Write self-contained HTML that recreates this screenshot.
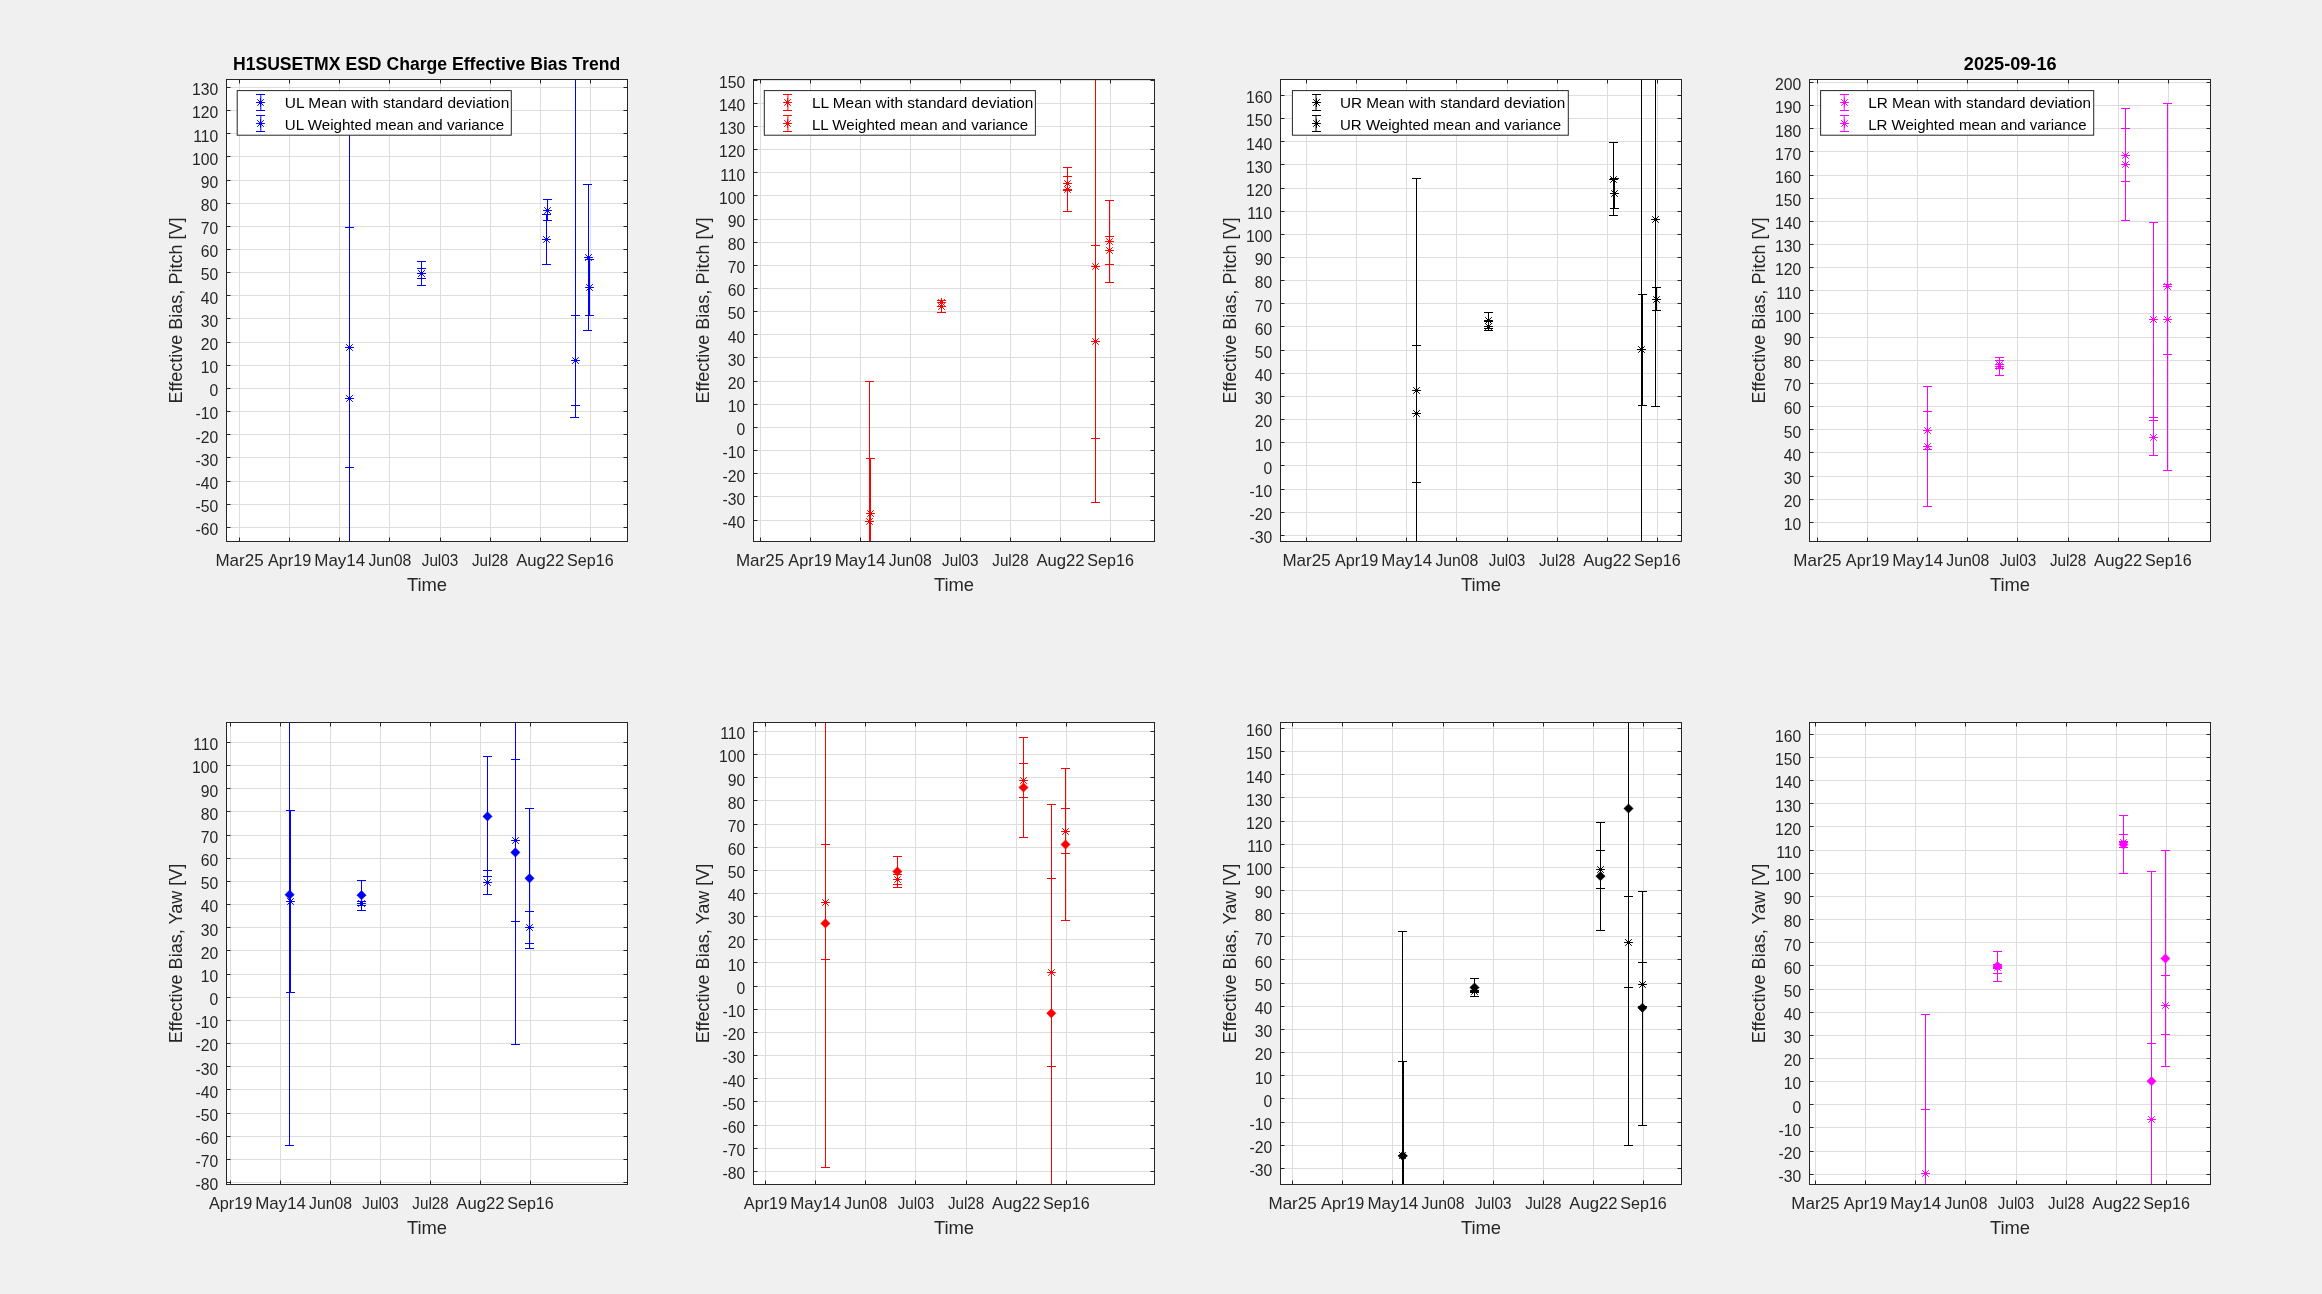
<!DOCTYPE html><html><head><meta charset="utf-8"><title>H1SUSETMX ESD Charge Effective Bias Trend</title><style>html,body{margin:0;padding:0;background:#f0f0f0;overflow:hidden;}svg{display:block;will-change:transform;}</style></head><body>
<svg xmlns="http://www.w3.org/2000/svg" width="2322" height="1294" viewBox="0 0 2322 1294" font-family='"Liberation Sans", sans-serif'>
<defs>
<clipPath id="cA1"><rect x="226.5" y="79.5" width="401" height="462"/></clipPath>
<clipPath id="cA2"><rect x="753.5" y="79.5" width="401" height="462"/></clipPath>
<clipPath id="cA3"><rect x="1280.5" y="79.5" width="401" height="462"/></clipPath>
<clipPath id="cA4"><rect x="1809.5" y="79.5" width="401" height="462"/></clipPath>
<clipPath id="cB1"><rect x="226.5" y="722.5" width="401" height="462"/></clipPath>
<clipPath id="cB2"><rect x="753.5" y="722.5" width="401" height="462"/></clipPath>
<clipPath id="cB3"><rect x="1280.5" y="722.5" width="401" height="462"/></clipPath>
<clipPath id="cB4"><rect x="1809.5" y="722.5" width="401" height="462"/></clipPath>
</defs>
<rect x="0" y="0" width="2322" height="1294" fill="#f0f0f0"/>
<rect x="226.0" y="79.0" width="402" height="463" fill="#fff"/>
<path d="M226.5 87.5H627.5M226.5 110.5H627.5M226.5 133.5H627.5M226.5 156.5H627.5M226.5 180.5H627.5M226.5 203.5H627.5M226.5 226.5H627.5M226.5 249.5H627.5M226.5 272.5H627.5M226.5 295.5H627.5M226.5 318.5H627.5M226.5 342.5H627.5M226.5 365.5H627.5M226.5 388.5H627.5M226.5 411.5H627.5M226.5 434.5H627.5M226.5 457.5H627.5M226.5 481.5H627.5M226.5 504.5H627.5M226.5 527.5H627.5M239.5 79.5V541.5M289.5 79.5V541.5M339.5 79.5V541.5M389.5 79.5V541.5M440.5 79.5V541.5M490.5 79.5V541.5M540.5 79.5V541.5M590.5 79.5V541.5" stroke="#dedede" stroke-width="1" fill="none"/>
<g clip-path="url(#cA1)">
<path d="M349.5 110V541.5M345 227.5H354M345 467.5H354M421.5 261.5V285.5M417 261.5H426M417 268.5H426M417 278.5H426M417 285.5H426M547.5 199.5V220.4M543 199.5H552M543 220.5H552M546.5 214.5V264.4M542 214.5H551M542 264.5H551M575.5 79.5V417.4M570 417.5H579M571 315.5H580M571 405.5H580M588.5 184.4V330.5M583 184.5H592M583 330.5H592M589.5 259.5V315.4M585 259.5H594M585 315.5H594" stroke="#0000ff" stroke-width="1" fill="none"/>
<path d="M345.1 347.5H353.9M349.5 343.1V351.9M346.2 344.2L352.8 350.8M346.2 350.8L352.8 344.2M345.1 398.5H353.9M349.5 394.1V402.9M346.2 395.2L352.8 401.8M346.2 401.8L352.8 395.2M417.1 273.5H425.9M421.5 269.1V277.9M418.2 270.2L424.8 276.8M418.2 276.8L424.8 270.2M417.1 273.5H425.9M421.5 269.1V277.9M418.2 270.2L424.8 276.8M418.2 276.8L424.8 270.2M543.1 210.5H551.9M547.5 206.1V214.9M544.2 207.2L550.8 213.8M544.2 213.8L550.8 207.2M542.1 239.5H550.9M546.5 235.1V243.9M543.2 236.2L549.8 242.8M543.2 242.8L549.8 236.2M571.1 360.5H579.9M575.5 356.1V364.9M572.2 357.2L578.8 363.8M572.2 363.8L578.8 357.2M584.1 257.5H592.9M588.5 253.1V261.9M585.2 254.2L591.8 260.8M585.2 260.8L591.8 254.2M585.1 287.5H593.9M589.5 283.1V291.9M586.2 284.2L592.8 290.8M586.2 290.8L592.8 284.2" stroke="#0000ff" stroke-width="1" fill="none"/>
</g>
<rect x="753.0" y="79.0" width="402" height="463" fill="#fff"/>
<path d="M753.5 80.5H1154.5M753.5 103.5H1154.5M753.5 126.5H1154.5M753.5 149.5H1154.5M753.5 172.5H1154.5M753.5 195.5H1154.5M753.5 219.5H1154.5M753.5 242.5H1154.5M753.5 265.5H1154.5M753.5 288.5H1154.5M753.5 311.5H1154.5M753.5 334.5H1154.5M753.5 357.5H1154.5M753.5 381.5H1154.5M753.5 404.5H1154.5M753.5 427.5H1154.5M753.5 450.5H1154.5M753.5 473.5H1154.5M753.5 496.5H1154.5M753.5 520.5H1154.5M760.5 79.5V541.5M810.5 79.5V541.5M860.5 79.5V541.5M910.5 79.5V541.5M960.5 79.5V541.5M1010.5 79.5V541.5M1060.5 79.5V541.5M1110.5 79.5V541.5" stroke="#dedede" stroke-width="1" fill="none"/>
<g clip-path="url(#cA2)">
<path d="M869.5 381.4V541.5M870.5 458.5V541.5M865 381.5H874M866 458.5H875M941.5 300.6V312.4M937 300.5H946M937 306.5H946M937 312.5H946M1067.5 167.5V211.5M1063 167.5H1072M1063 176.5H1072M1063 190.5H1072M1063 211.5H1072M1095.5 79.5V502.5M1091 245.5H1100M1091 438.5H1100M1091 502.5H1100M1109.5 200.4V282.4M1105 200.5H1114M1105 236.5H1114M1105 264.5H1114M1105 282.5H1114" stroke="#ff0000" stroke-width="1" fill="none"/>
<path d="M866.1 513.5H874.9M870.5 509.1V517.9M867.2 510.2L873.8 516.8M867.2 516.8L873.8 510.2M865.1 521.5H873.9M869.5 517.1V525.9M866.2 518.2L872.8 524.8M866.2 524.8L872.8 518.2M937.1 302.5H945.9M941.5 298.1V306.9M938.2 299.2L944.8 305.8M938.2 305.8L944.8 299.2M937.1 306.5H945.9M941.5 302.1V310.9M938.2 303.2L944.8 309.8M938.2 309.8L944.8 303.2M1063.1 183.5H1071.9M1067.5 179.1V187.9M1064.2 180.2L1070.8 186.8M1064.2 186.8L1070.8 180.2M1063.1 189.5H1071.9M1067.5 185.1V193.9M1064.2 186.2L1070.8 192.8M1064.2 192.8L1070.8 186.2M1091.1 266.5H1099.9M1095.5 262.1V270.9M1092.2 263.2L1098.8 269.8M1092.2 269.8L1098.8 263.2M1091.1 341.5H1099.9M1095.5 337.1V345.9M1092.2 338.2L1098.8 344.8M1092.2 344.8L1098.8 338.2M1105.1 241.5H1113.9M1109.5 237.1V245.9M1106.2 238.2L1112.8 244.8M1106.2 244.8L1112.8 238.2M1105.1 250.5H1113.9M1109.5 246.1V254.9M1106.2 247.2L1112.8 253.8M1106.2 253.8L1112.8 247.2" stroke="#ff0000" stroke-width="1" fill="none"/>
</g>
<rect x="1280.0" y="79.0" width="402" height="463" fill="#fff"/>
<path d="M1280.5 95.5H1681.5M1280.5 118.5H1681.5M1280.5 141.5H1681.5M1280.5 164.5H1681.5M1280.5 188.5H1681.5M1280.5 211.5H1681.5M1280.5 234.5H1681.5M1280.5 257.5H1681.5M1280.5 280.5H1681.5M1280.5 303.5H1681.5M1280.5 326.5H1681.5M1280.5 350.5H1681.5M1280.5 373.5H1681.5M1280.5 396.5H1681.5M1280.5 419.5H1681.5M1280.5 442.5H1681.5M1280.5 465.5H1681.5M1280.5 489.5H1681.5M1280.5 512.5H1681.5M1280.5 535.5H1681.5M1306.5 79.5V541.5M1356.5 79.5V541.5M1406.5 79.5V541.5M1456.5 79.5V541.5M1507.5 79.5V541.5M1557.5 79.5V541.5M1607.5 79.5V541.5M1657.5 79.5V541.5" stroke="#dedede" stroke-width="1" fill="none"/>
<g clip-path="url(#cA3)">
<path d="M1416.5 178.4V541.5M1412 178.5H1421M1412 345.5H1421M1412 482.5H1421M1488.5 312.5V330.5M1484 312.5H1493M1484 321.5H1493M1484 328.5H1493M1484 330.5H1493M1613.5 142.4V215.5M1609 142.5H1618M1609 215.5H1618M1614.5 178.6V208.4M1610 178.5H1619M1610 208.5H1619M1641.5 79.5V541.5M1642.5 294.5V405.3M1638 294.5H1647M1638 405.5H1647M1655.5 79.5V406.4M1651 406.5H1660M1656.5 287.4V310.5M1652 287.5H1661M1652 310.5H1661" stroke="#000000" stroke-width="1" fill="none"/>
<path d="M1412.1 390.5H1420.9M1416.5 386.1V394.9M1413.2 387.2L1419.8 393.8M1413.2 393.8L1419.8 387.2M1412.1 413.5H1420.9M1416.5 409.1V417.9M1413.2 410.2L1419.8 416.8M1413.2 416.8L1419.8 410.2M1484.1 320.5H1492.9M1488.5 316.1V324.9M1485.2 317.2L1491.8 323.8M1485.2 323.8L1491.8 317.2M1484.1 326.5H1492.9M1488.5 322.1V330.9M1485.2 323.2L1491.8 329.8M1485.2 329.8L1491.8 323.2M1609.1 179.5H1617.9M1613.5 175.1V183.9M1610.2 176.2L1616.8 182.8M1610.2 182.8L1616.8 176.2M1610.1 193.5H1618.9M1614.5 189.1V197.9M1611.2 190.2L1617.8 196.8M1611.2 196.8L1617.8 190.2M1637.1 349.5H1645.9M1641.5 345.1V353.9M1638.2 346.2L1644.8 352.8M1638.2 352.8L1644.8 346.2M1651.1 219.5H1659.9M1655.5 215.1V223.9M1652.2 216.2L1658.8 222.8M1652.2 222.8L1658.8 216.2M1652.1 299.5H1660.9M1656.5 295.1V303.9M1653.2 296.2L1659.8 302.8M1653.2 302.8L1659.8 296.2" stroke="#000000" stroke-width="1" fill="none"/>
</g>
<rect x="1809.0" y="79.0" width="402" height="463" fill="#fff"/>
<path d="M1809.5 82.5H2210.5M1809.5 105.5H2210.5M1809.5 128.5H2210.5M1809.5 151.5H2210.5M1809.5 175.5H2210.5M1809.5 198.5H2210.5M1809.5 221.5H2210.5M1809.5 244.5H2210.5M1809.5 267.5H2210.5M1809.5 290.5H2210.5M1809.5 313.5H2210.5M1809.5 337.5H2210.5M1809.5 360.5H2210.5M1809.5 383.5H2210.5M1809.5 406.5H2210.5M1809.5 429.5H2210.5M1809.5 452.5H2210.5M1809.5 476.5H2210.5M1809.5 499.5H2210.5M1809.5 522.5H2210.5M1817.5 79.5V541.5M1867.5 79.5V541.5M1917.5 79.5V541.5M1967.5 79.5V541.5M2017.5 79.5V541.5M2068.5 79.5V541.5M2118.5 79.5V541.5M2168.5 79.5V541.5" stroke="#dedede" stroke-width="1" fill="none"/>
<g clip-path="url(#cA4)">
<path d="M1927.5 386.4V506.5M1923 386.5H1932M1923 411.5H1932M1923 449.5H1932M1923 506.5H1932M1999.5 357.3V375.5M1995 357.5H2004M1995 360.5H2004M1995 368.5H2004M1995 375.5H2004M2125.5 108.5V220.5M2121 108.5H2130M2121 128.5H2130M2121 181.5H2130M2121 220.5H2130M2153.5 222.4V455.4M2149 222.5H2158M2149 417.5H2158M2149 420.5H2158M2149 455.5H2158M2167.5 103.4V470.5M2163 103.5H2172M2163 284.5H2172M2163 354.5H2172M2163 470.5H2172" stroke="#ff00ff" stroke-width="1" fill="none"/>
<path d="M1923.1 430.5H1931.9M1927.5 426.1V434.9M1924.2 427.2L1930.8 433.8M1924.2 433.8L1930.8 427.2M1923.1 446.5H1931.9M1927.5 442.1V450.9M1924.2 443.2L1930.8 449.8M1924.2 449.8L1930.8 443.2M1995.1 364.5H2003.9M1999.5 360.1V368.9M1996.2 361.2L2002.8 367.8M1996.2 367.8L2002.8 361.2M1995.1 366.5H2003.9M1999.5 362.1V370.9M1996.2 363.2L2002.8 369.8M1996.2 369.8L2002.8 363.2M2121.1 155.5H2129.9M2125.5 151.1V159.9M2122.2 152.2L2128.8 158.8M2122.2 158.8L2128.8 152.2M2121.1 164.5H2129.9M2125.5 160.1V168.9M2122.2 161.2L2128.8 167.8M2122.2 167.8L2128.8 161.2M2149.1 319.5H2157.9M2153.5 315.1V323.9M2150.2 316.2L2156.8 322.8M2150.2 322.8L2156.8 316.2M2149.1 437.5H2157.9M2153.5 433.1V441.9M2150.2 434.2L2156.8 440.8M2150.2 440.8L2156.8 434.2M2163.1 286.5H2171.9M2167.5 282.1V290.9M2164.2 283.2L2170.8 289.8M2164.2 289.8L2170.8 283.2M2163.1 319.5H2171.9M2167.5 315.1V323.9M2164.2 316.2L2170.8 322.8M2164.2 322.8L2170.8 316.2" stroke="#ff00ff" stroke-width="1" fill="none"/>
</g>
<rect x="226.0" y="722.0" width="402" height="463" fill="#fff"/>
<path d="M226.5 742.5H627.5M226.5 765.5H627.5M226.5 788.5H627.5M226.5 811.5H627.5M226.5 835.5H627.5M226.5 858.5H627.5M226.5 881.5H627.5M226.5 904.5H627.5M226.5 927.5H627.5M226.5 950.5H627.5M226.5 974.5H627.5M226.5 997.5H627.5M226.5 1020.5H627.5M226.5 1043.5H627.5M226.5 1066.5H627.5M226.5 1089.5H627.5M226.5 1113.5H627.5M226.5 1136.5H627.5M226.5 1159.5H627.5M226.5 1182.5H627.5M230.5 722.5V1184.5M280.5 722.5V1184.5M330.5 722.5V1184.5M380.5 722.5V1184.5M430.5 722.5V1184.5M480.5 722.5V1184.5M530.5 722.5V1184.5" stroke="#dedede" stroke-width="1" fill="none"/>
<g clip-path="url(#cB1)">
<path d="M289.5 722.5V1145.4M285 1145.5H294M290.5 810.5V992.5M286 810.5H295M286 992.5H295M361.5 880.4V910.5M357 880.5H366M357 901.5H366M357 905.5H366M357 910.5H366M487.5 756.5V894.5M483 756.5H492M483 870.5H492M483 876.5H492M483 894.5H492M515.5 722.5V1044.4M511 759.5H520M511 921.5H520M511 1044.5H520M529.5 808.5V948.4M525 808.5H534M525 911.5H534M525 943.5H534M525 948.5H534" stroke="#0000ff" stroke-width="1" fill="none"/>
<path d="M286.1 901.5H294.9M290.5 897.1V905.9M287.2 898.2L293.8 904.8M287.2 904.8L293.8 898.2M357.1 903.5H365.9M361.5 899.1V907.9M358.2 900.2L364.8 906.8M358.2 906.8L364.8 900.2M483.1 882.5H491.9M487.5 878.1V886.9M484.2 879.2L490.8 885.8M484.2 885.8L490.8 879.2M511.1 840.5H519.9M515.5 836.1V844.9M512.2 837.2L518.8 843.8M512.2 843.8L518.8 837.2M525.1 927.5H533.9M529.5 923.1V931.9M526.2 924.2L532.8 930.8M526.2 930.8L532.8 924.2" stroke="#0000ff" stroke-width="1" fill="none"/>
<path d="M289.6 890.1L294.2 894.7L289.6 899.3L285 894.7ZM361.5 890.6L366.1 895.2L361.5 899.8L356.9 895.2ZM487.5 811.8L492.1 816.4L487.5 821L482.9 816.4ZM515.4 847.8L520 852.4L515.4 857L510.8 852.4ZM529.5 873.7L534.1 878.3L529.5 882.9L524.9 878.3Z" stroke="#0000ff" stroke-width="0.6" fill="#0000ff"/>
</g>
<rect x="753.0" y="722.0" width="402" height="463" fill="#fff"/>
<path d="M753.5 731.5H1154.5M753.5 754.5H1154.5M753.5 777.5H1154.5M753.5 800.5H1154.5M753.5 824.5H1154.5M753.5 847.5H1154.5M753.5 870.5H1154.5M753.5 893.5H1154.5M753.5 916.5H1154.5M753.5 939.5H1154.5M753.5 962.5H1154.5M753.5 986.5H1154.5M753.5 1009.5H1154.5M753.5 1032.5H1154.5M753.5 1055.5H1154.5M753.5 1078.5H1154.5M753.5 1101.5H1154.5M753.5 1125.5H1154.5M753.5 1148.5H1154.5M753.5 1171.5H1154.5M765.5 722.5V1184.5M815.5 722.5V1184.5M865.5 722.5V1184.5M915.5 722.5V1184.5M966.5 722.5V1184.5M1016.5 722.5V1184.5M1066.5 722.5V1184.5" stroke="#dedede" stroke-width="1" fill="none"/>
<g clip-path="url(#cB2)">
<path d="M825.5 722.5V1167.2M821 844.5H830M821 959.5H830M821 1167.5H830M897.5 856.5V887.5M893 856.5H902M893 874.5H902M893 884.5H902M893 887.5H902M1023.5 737.4V837.5M1019 737.5H1028M1019 763.5H1028M1019 797.5H1028M1019 837.5H1028M1051.5 804.5V1184.5M1047 804.5H1056M1047 878.5H1056M1047 1066.5H1056M1065.5 768.4V920.5M1061 768.5H1070M1061 808.5H1070M1061 853.5H1070M1061 920.5H1070" stroke="#ff0000" stroke-width="1" fill="none"/>
<path d="M821.1 902.5H829.9M825.5 898.1V906.9M822.2 899.2L828.8 905.8M822.2 905.8L828.8 899.2M893.1 879.5H901.9M897.5 875.1V883.9M894.2 876.2L900.8 882.8M894.2 882.8L900.8 876.2M1019.1 780.5H1027.9M1023.5 776.1V784.9M1020.2 777.2L1026.8 783.8M1020.2 783.8L1026.8 777.2M1047.1 972.5H1055.9M1051.5 968.1V976.9M1048.2 969.2L1054.8 975.8M1048.2 975.8L1054.8 969.2M1061.1 831.5H1069.9M1065.5 827.1V835.9M1062.2 828.2L1068.8 834.8M1062.2 834.8L1068.8 828.2" stroke="#ff0000" stroke-width="1" fill="none"/>
<path d="M825.4 918.8L830 923.4L825.4 928L820.8 923.4ZM897.4 866.9L902 871.5L897.4 876.1L892.8 871.5ZM1023.5 782.9L1028.1 787.5L1023.5 792.1L1018.9 787.5ZM1051.3 1008.7L1055.9 1013.3L1051.3 1017.9L1046.7 1013.3ZM1065.5 839.9L1070.1 844.5L1065.5 849.1L1060.9 844.5Z" stroke="#ff0000" stroke-width="0.6" fill="#ff0000"/>
</g>
<rect x="1280.0" y="722.0" width="402" height="463" fill="#fff"/>
<path d="M1280.5 728.5H1681.5M1280.5 751.5H1681.5M1280.5 774.5H1681.5M1280.5 797.5H1681.5M1280.5 821.5H1681.5M1280.5 844.5H1681.5M1280.5 867.5H1681.5M1280.5 890.5H1681.5M1280.5 913.5H1681.5M1280.5 936.5H1681.5M1280.5 959.5H1681.5M1280.5 983.5H1681.5M1280.5 1006.5H1681.5M1280.5 1029.5H1681.5M1280.5 1052.5H1681.5M1280.5 1075.5H1681.5M1280.5 1098.5H1681.5M1280.5 1122.5H1681.5M1280.5 1145.5H1681.5M1280.5 1168.5H1681.5M1292.5 722.5V1184.5M1342.5 722.5V1184.5M1392.5 722.5V1184.5M1443.5 722.5V1184.5M1493.5 722.5V1184.5M1543.5 722.5V1184.5M1593.5 722.5V1184.5M1643.5 722.5V1184.5" stroke="#dedede" stroke-width="1" fill="none"/>
<g clip-path="url(#cB3)">
<path d="M1402.5 931.5V1184.5M1403.5 1061.4V1184.5M1398 931.5H1407M1398 1061.5H1407M1474.5 978.4V996.5M1470 978.5H1479M1470 990.5H1479M1470 992.5H1479M1470 996.5H1479M1600.5 822.5V930.5M1596 822.5H1605M1596 850.5H1605M1596 888.5H1605M1596 930.5H1605M1628.5 722.5V1145.5M1624 896.5H1633M1624 987.5H1633M1624 1145.5H1633M1642.5 891.4V1125.4M1638 891.5H1647M1638 962.5H1647M1638 1006.5H1647M1638 1125.5H1647" stroke="#000000" stroke-width="1" fill="none"/>
<path d="M1398.1 1155.5H1406.9M1402.5 1151.1V1159.9M1399.2 1152.2L1405.8 1158.8M1399.2 1158.8L1405.8 1152.2M1470.1 991.5H1478.9M1474.5 987.1V995.9M1471.2 988.2L1477.8 994.8M1471.2 994.8L1477.8 988.2M1596.1 869.5H1604.9M1600.5 865.1V873.9M1597.2 866.2L1603.8 872.8M1597.2 872.8L1603.8 866.2M1624.1 942.5H1632.9M1628.5 938.1V946.9M1625.2 939.2L1631.8 945.8M1625.2 945.8L1631.8 939.2M1638.1 984.5H1646.9M1642.5 980.1V988.9M1639.2 981.2L1645.8 987.8M1639.2 987.8L1645.8 981.2" stroke="#000000" stroke-width="1" fill="none"/>
<path d="M1402.8 1151.3L1407.4 1155.9L1402.8 1160.5L1398.2 1155.9ZM1474.5 982.9L1479.1 987.5L1474.5 992.1L1469.9 987.5ZM1600.5 871.6L1605.1 876.2L1600.5 880.8L1595.9 876.2ZM1628.5 803.9L1633.1 808.5L1628.5 813.1L1623.9 808.5ZM1642.4 1003.2L1647 1007.8L1642.4 1012.4L1637.8 1007.8Z" stroke="#000000" stroke-width="0.6" fill="#000000"/>
</g>
<rect x="1809.0" y="722.0" width="402" height="463" fill="#fff"/>
<path d="M1809.5 734.5H2210.5M1809.5 757.5H2210.5M1809.5 780.5H2210.5M1809.5 803.5H2210.5M1809.5 826.5H2210.5M1809.5 850.5H2210.5M1809.5 873.5H2210.5M1809.5 896.5H2210.5M1809.5 919.5H2210.5M1809.5 942.5H2210.5M1809.5 965.5H2210.5M1809.5 989.5H2210.5M1809.5 1012.5H2210.5M1809.5 1035.5H2210.5M1809.5 1058.5H2210.5M1809.5 1081.5H2210.5M1809.5 1104.5H2210.5M1809.5 1127.5H2210.5M1809.5 1151.5H2210.5M1809.5 1174.5H2210.5M1815.5 722.5V1184.5M1865.5 722.5V1184.5M1915.5 722.5V1184.5M1965.5 722.5V1184.5M2016.5 722.5V1184.5M2066.5 722.5V1184.5M2116.5 722.5V1184.5M2166.5 722.5V1184.5" stroke="#dedede" stroke-width="1" fill="none"/>
<g clip-path="url(#cB4)">
<path d="M1925.5 1014.4V1184.5M1921 1014.5H1930M1921 1109.5H1930M1997.5 951.4V981.5M1993 951.5H2002M1993 964.5H2002M1993 968.5H2002M1993 973.5H2002M1993 981.5H2002M2123.5 815.5V873.5M2119 815.5H2128M2119 834.5H2128M2119 841.5H2128M2119 847.5H2128M2119 873.5H2128M2151.5 871.4V1184.5M2147 871.5H2156M2147 1043.5H2156M2165.5 850.4V1066.4M2161 850.5H2170M2161 975.5H2170M2161 1034.5H2170M2161 1066.5H2170" stroke="#ff00ff" stroke-width="1" fill="none"/>
<path d="M1921.1 1173.5H1929.9M1925.5 1169.1V1177.9M1922.2 1170.2L1928.8 1176.8M1922.2 1176.8L1928.8 1170.2M1993.1 967.5H2001.9M1997.5 963.1V971.9M1994.2 964.2L2000.8 970.8M1994.2 970.8L2000.8 964.2M2119.1 842.5H2127.9M2123.5 838.1V846.9M2120.2 839.2L2126.8 845.8M2120.2 845.8L2126.8 839.2M2147.1 1119.5H2155.9M2151.5 1115.1V1123.9M2148.2 1116.2L2154.8 1122.8M2148.2 1122.8L2154.8 1116.2M2161.1 1005.5H2169.9M2165.5 1001.1V1009.9M2162.2 1002.2L2168.8 1008.8M2162.2 1008.8L2168.8 1002.2" stroke="#ff00ff" stroke-width="1" fill="none"/>
<path d="M1997.5 961.6L2002.1 966.2L1997.5 970.8L1992.9 966.2ZM2123.5 839.9L2128.1 844.5L2123.5 849.1L2118.9 844.5ZM2151.5 1076.6L2156.1 1081.2L2151.5 1085.8L2146.9 1081.2ZM2165.4 953.9L2170 958.5L2165.4 963.1L2160.8 958.5Z" stroke="#ff00ff" stroke-width="0.6" fill="#ff00ff"/>
</g>
<path d="M226.5 87.5h4M627.5 87.5h-4M226.5 110.5h4M627.5 110.5h-4M226.5 133.5h4M627.5 133.5h-4M226.5 156.5h4M627.5 156.5h-4M226.5 180.5h4M627.5 180.5h-4M226.5 203.5h4M627.5 203.5h-4M226.5 226.5h4M627.5 226.5h-4M226.5 249.5h4M627.5 249.5h-4M226.5 272.5h4M627.5 272.5h-4M226.5 295.5h4M627.5 295.5h-4M226.5 318.5h4M627.5 318.5h-4M226.5 342.5h4M627.5 342.5h-4M226.5 365.5h4M627.5 365.5h-4M226.5 388.5h4M627.5 388.5h-4M226.5 411.5h4M627.5 411.5h-4M226.5 434.5h4M627.5 434.5h-4M226.5 457.5h4M627.5 457.5h-4M226.5 481.5h4M627.5 481.5h-4M226.5 504.5h4M627.5 504.5h-4M226.5 527.5h4M627.5 527.5h-4M239.5 541.5v-4M239.5 79.5v4M289.5 541.5v-4M289.5 79.5v4M339.5 541.5v-4M339.5 79.5v4M389.5 541.5v-4M389.5 79.5v4M440.5 541.5v-4M440.5 79.5v4M490.5 541.5v-4M490.5 79.5v4M540.5 541.5v-4M540.5 79.5v4M590.5 541.5v-4M590.5 79.5v4" stroke="#262626" stroke-width="1" fill="none"/>
<rect x="226.5" y="79.5" width="401" height="462" fill="none" stroke="#262626" stroke-width="1"/>
<g font-size="15.7" fill="#262626"><text x="218.3" y="95.2" text-anchor="end">130</text><text x="218.3" y="118.36" text-anchor="end">120</text><text x="218.3" y="141.52" text-anchor="end">110</text><text x="218.3" y="164.67" text-anchor="end">100</text><text x="218.3" y="187.83" text-anchor="end">90</text><text x="218.3" y="210.99" text-anchor="end">80</text><text x="218.3" y="234.15" text-anchor="end">70</text><text x="218.3" y="257.31" text-anchor="end">60</text><text x="218.3" y="280.46" text-anchor="end">50</text><text x="218.3" y="303.62" text-anchor="end">40</text><text x="218.3" y="326.78" text-anchor="end">30</text><text x="218.3" y="349.94" text-anchor="end">20</text><text x="218.3" y="373.1" text-anchor="end">10</text><text x="218.3" y="396.25" text-anchor="end">0</text><text x="218.3" y="419.41" text-anchor="end">-10</text><text x="218.3" y="442.57" text-anchor="end">-20</text><text x="218.3" y="465.73" text-anchor="end">-30</text><text x="218.3" y="488.89" text-anchor="end">-40</text><text x="218.3" y="512.04" text-anchor="end">-50</text><text x="218.3" y="535.2" text-anchor="end">-60</text><text x="239.5" y="565.9" text-anchor="middle" textLength="48.21" lengthAdjust="spacingAndGlyphs">Mar25</text><text x="289.63" y="565.9" text-anchor="middle" textLength="43.4" lengthAdjust="spacingAndGlyphs">Apr19</text><text x="339.76" y="565.9" text-anchor="middle" textLength="50.78" lengthAdjust="spacingAndGlyphs">May14</text><text x="389.89" y="565.9" text-anchor="middle" textLength="43.03" lengthAdjust="spacingAndGlyphs">Jun08</text><text x="440.02" y="565.9" text-anchor="middle" textLength="36.51" lengthAdjust="spacingAndGlyphs">Jul03</text><text x="490.15" y="565.9" text-anchor="middle" textLength="36.3" lengthAdjust="spacingAndGlyphs">Jul28</text><text x="540.28" y="565.9" text-anchor="middle" textLength="48.27" lengthAdjust="spacingAndGlyphs">Aug22</text><text x="590.41" y="565.9" text-anchor="middle" textLength="46.54" lengthAdjust="spacingAndGlyphs">Sep16</text></g>
<text x="427" y="590.9" text-anchor="middle" font-size="18.4" fill="#262626">Time</text>
<text transform="translate(182 310.5) rotate(-90)" x="0" y="0" text-anchor="middle" font-size="18.7" fill="#262626" textLength="185.96" lengthAdjust="spacingAndGlyphs">Effective Bias, Pitch [V]</text>
<path d="M753.5 80.5h4M1154.5 80.5h-4M753.5 103.5h4M1154.5 103.5h-4M753.5 126.5h4M1154.5 126.5h-4M753.5 149.5h4M1154.5 149.5h-4M753.5 172.5h4M1154.5 172.5h-4M753.5 195.5h4M1154.5 195.5h-4M753.5 219.5h4M1154.5 219.5h-4M753.5 242.5h4M1154.5 242.5h-4M753.5 265.5h4M1154.5 265.5h-4M753.5 288.5h4M1154.5 288.5h-4M753.5 311.5h4M1154.5 311.5h-4M753.5 334.5h4M1154.5 334.5h-4M753.5 357.5h4M1154.5 357.5h-4M753.5 381.5h4M1154.5 381.5h-4M753.5 404.5h4M1154.5 404.5h-4M753.5 427.5h4M1154.5 427.5h-4M753.5 450.5h4M1154.5 450.5h-4M753.5 473.5h4M1154.5 473.5h-4M753.5 496.5h4M1154.5 496.5h-4M753.5 520.5h4M1154.5 520.5h-4M760.5 541.5v-4M760.5 79.5v4M810.5 541.5v-4M810.5 79.5v4M860.5 541.5v-4M860.5 79.5v4M910.5 541.5v-4M910.5 79.5v4M960.5 541.5v-4M960.5 79.5v4M1010.5 541.5v-4M1010.5 79.5v4M1060.5 541.5v-4M1060.5 79.5v4M1110.5 541.5v-4M1110.5 79.5v4" stroke="#262626" stroke-width="1" fill="none"/>
<rect x="753.5" y="79.5" width="401" height="462" fill="none" stroke="#262626" stroke-width="1"/>
<g font-size="15.7" fill="#262626"><text x="745.3" y="87.9" text-anchor="end">150</text><text x="745.3" y="111.06" text-anchor="end">140</text><text x="745.3" y="134.22" text-anchor="end">130</text><text x="745.3" y="157.37" text-anchor="end">120</text><text x="745.3" y="180.53" text-anchor="end">110</text><text x="745.3" y="203.69" text-anchor="end">100</text><text x="745.3" y="226.85" text-anchor="end">90</text><text x="745.3" y="250.01" text-anchor="end">80</text><text x="745.3" y="273.16" text-anchor="end">70</text><text x="745.3" y="296.32" text-anchor="end">60</text><text x="745.3" y="319.48" text-anchor="end">50</text><text x="745.3" y="342.64" text-anchor="end">40</text><text x="745.3" y="365.8" text-anchor="end">30</text><text x="745.3" y="388.95" text-anchor="end">20</text><text x="745.3" y="412.11" text-anchor="end">10</text><text x="745.3" y="435.27" text-anchor="end">0</text><text x="745.3" y="458.43" text-anchor="end">-10</text><text x="745.3" y="481.59" text-anchor="end">-20</text><text x="745.3" y="504.74" text-anchor="end">-30</text><text x="745.3" y="527.9" text-anchor="end">-40</text><text x="760" y="565.9" text-anchor="middle" textLength="48.21" lengthAdjust="spacingAndGlyphs">Mar25</text><text x="810.09" y="565.9" text-anchor="middle" textLength="43.4" lengthAdjust="spacingAndGlyphs">Apr19</text><text x="860.18" y="565.9" text-anchor="middle" textLength="50.78" lengthAdjust="spacingAndGlyphs">May14</text><text x="910.27" y="565.9" text-anchor="middle" textLength="43.03" lengthAdjust="spacingAndGlyphs">Jun08</text><text x="960.36" y="565.9" text-anchor="middle" textLength="36.51" lengthAdjust="spacingAndGlyphs">Jul03</text><text x="1010.45" y="565.9" text-anchor="middle" textLength="36.3" lengthAdjust="spacingAndGlyphs">Jul28</text><text x="1060.54" y="565.9" text-anchor="middle" textLength="48.27" lengthAdjust="spacingAndGlyphs">Aug22</text><text x="1110.63" y="565.9" text-anchor="middle" textLength="46.54" lengthAdjust="spacingAndGlyphs">Sep16</text></g>
<text x="954" y="590.9" text-anchor="middle" font-size="18.4" fill="#262626">Time</text>
<text transform="translate(709 310.5) rotate(-90)" x="0" y="0" text-anchor="middle" font-size="18.7" fill="#262626" textLength="185.96" lengthAdjust="spacingAndGlyphs">Effective Bias, Pitch [V]</text>
<path d="M1280.5 95.5h4M1681.5 95.5h-4M1280.5 118.5h4M1681.5 118.5h-4M1280.5 141.5h4M1681.5 141.5h-4M1280.5 164.5h4M1681.5 164.5h-4M1280.5 188.5h4M1681.5 188.5h-4M1280.5 211.5h4M1681.5 211.5h-4M1280.5 234.5h4M1681.5 234.5h-4M1280.5 257.5h4M1681.5 257.5h-4M1280.5 280.5h4M1681.5 280.5h-4M1280.5 303.5h4M1681.5 303.5h-4M1280.5 326.5h4M1681.5 326.5h-4M1280.5 350.5h4M1681.5 350.5h-4M1280.5 373.5h4M1681.5 373.5h-4M1280.5 396.5h4M1681.5 396.5h-4M1280.5 419.5h4M1681.5 419.5h-4M1280.5 442.5h4M1681.5 442.5h-4M1280.5 465.5h4M1681.5 465.5h-4M1280.5 489.5h4M1681.5 489.5h-4M1280.5 512.5h4M1681.5 512.5h-4M1280.5 535.5h4M1681.5 535.5h-4M1306.5 541.5v-4M1306.5 79.5v4M1356.5 541.5v-4M1356.5 79.5v4M1406.5 541.5v-4M1406.5 79.5v4M1456.5 541.5v-4M1456.5 79.5v4M1507.5 541.5v-4M1507.5 79.5v4M1557.5 541.5v-4M1557.5 79.5v4M1607.5 541.5v-4M1607.5 79.5v4M1657.5 541.5v-4M1657.5 79.5v4" stroke="#262626" stroke-width="1" fill="none"/>
<rect x="1280.5" y="79.5" width="401" height="462" fill="none" stroke="#262626" stroke-width="1"/>
<g font-size="15.7" fill="#262626"><text x="1272.3" y="103.2" text-anchor="end">160</text><text x="1272.3" y="126.36" text-anchor="end">150</text><text x="1272.3" y="149.52" text-anchor="end">140</text><text x="1272.3" y="172.67" text-anchor="end">130</text><text x="1272.3" y="195.83" text-anchor="end">120</text><text x="1272.3" y="218.99" text-anchor="end">110</text><text x="1272.3" y="242.15" text-anchor="end">100</text><text x="1272.3" y="265.31" text-anchor="end">90</text><text x="1272.3" y="288.46" text-anchor="end">80</text><text x="1272.3" y="311.62" text-anchor="end">70</text><text x="1272.3" y="334.78" text-anchor="end">60</text><text x="1272.3" y="357.94" text-anchor="end">50</text><text x="1272.3" y="381.1" text-anchor="end">40</text><text x="1272.3" y="404.25" text-anchor="end">30</text><text x="1272.3" y="427.41" text-anchor="end">20</text><text x="1272.3" y="450.57" text-anchor="end">10</text><text x="1272.3" y="473.73" text-anchor="end">0</text><text x="1272.3" y="496.89" text-anchor="end">-10</text><text x="1272.3" y="520.04" text-anchor="end">-20</text><text x="1272.3" y="543.2" text-anchor="end">-30</text><text x="1306.5" y="565.9" text-anchor="middle" textLength="48.21" lengthAdjust="spacingAndGlyphs">Mar25</text><text x="1356.63" y="565.9" text-anchor="middle" textLength="43.4" lengthAdjust="spacingAndGlyphs">Apr19</text><text x="1406.76" y="565.9" text-anchor="middle" textLength="50.78" lengthAdjust="spacingAndGlyphs">May14</text><text x="1456.89" y="565.9" text-anchor="middle" textLength="43.03" lengthAdjust="spacingAndGlyphs">Jun08</text><text x="1507.02" y="565.9" text-anchor="middle" textLength="36.51" lengthAdjust="spacingAndGlyphs">Jul03</text><text x="1557.15" y="565.9" text-anchor="middle" textLength="36.3" lengthAdjust="spacingAndGlyphs">Jul28</text><text x="1607.28" y="565.9" text-anchor="middle" textLength="48.27" lengthAdjust="spacingAndGlyphs">Aug22</text><text x="1657.41" y="565.9" text-anchor="middle" textLength="46.54" lengthAdjust="spacingAndGlyphs">Sep16</text></g>
<text x="1481" y="590.9" text-anchor="middle" font-size="18.4" fill="#262626">Time</text>
<text transform="translate(1236 310.5) rotate(-90)" x="0" y="0" text-anchor="middle" font-size="18.7" fill="#262626" textLength="185.96" lengthAdjust="spacingAndGlyphs">Effective Bias, Pitch [V]</text>
<path d="M1809.5 82.5h4M2210.5 82.5h-4M1809.5 105.5h4M2210.5 105.5h-4M1809.5 128.5h4M2210.5 128.5h-4M1809.5 151.5h4M2210.5 151.5h-4M1809.5 175.5h4M2210.5 175.5h-4M1809.5 198.5h4M2210.5 198.5h-4M1809.5 221.5h4M2210.5 221.5h-4M1809.5 244.5h4M2210.5 244.5h-4M1809.5 267.5h4M2210.5 267.5h-4M1809.5 290.5h4M2210.5 290.5h-4M1809.5 313.5h4M2210.5 313.5h-4M1809.5 337.5h4M2210.5 337.5h-4M1809.5 360.5h4M2210.5 360.5h-4M1809.5 383.5h4M2210.5 383.5h-4M1809.5 406.5h4M2210.5 406.5h-4M1809.5 429.5h4M2210.5 429.5h-4M1809.5 452.5h4M2210.5 452.5h-4M1809.5 476.5h4M2210.5 476.5h-4M1809.5 499.5h4M2210.5 499.5h-4M1809.5 522.5h4M2210.5 522.5h-4M1817.5 541.5v-4M1817.5 79.5v4M1867.5 541.5v-4M1867.5 79.5v4M1917.5 541.5v-4M1917.5 79.5v4M1967.5 541.5v-4M1967.5 79.5v4M2017.5 541.5v-4M2017.5 79.5v4M2068.5 541.5v-4M2068.5 79.5v4M2118.5 541.5v-4M2118.5 79.5v4M2168.5 541.5v-4M2168.5 79.5v4" stroke="#262626" stroke-width="1" fill="none"/>
<rect x="1809.5" y="79.5" width="401" height="462" fill="none" stroke="#262626" stroke-width="1"/>
<g font-size="15.7" fill="#262626"><text x="1801.3" y="90.2" text-anchor="end">200</text><text x="1801.3" y="113.36" text-anchor="end">190</text><text x="1801.3" y="136.52" text-anchor="end">180</text><text x="1801.3" y="159.67" text-anchor="end">170</text><text x="1801.3" y="182.83" text-anchor="end">160</text><text x="1801.3" y="205.99" text-anchor="end">150</text><text x="1801.3" y="229.15" text-anchor="end">140</text><text x="1801.3" y="252.31" text-anchor="end">130</text><text x="1801.3" y="275.46" text-anchor="end">120</text><text x="1801.3" y="298.62" text-anchor="end">110</text><text x="1801.3" y="321.78" text-anchor="end">100</text><text x="1801.3" y="344.94" text-anchor="end">90</text><text x="1801.3" y="368.1" text-anchor="end">80</text><text x="1801.3" y="391.25" text-anchor="end">70</text><text x="1801.3" y="414.41" text-anchor="end">60</text><text x="1801.3" y="437.57" text-anchor="end">50</text><text x="1801.3" y="460.73" text-anchor="end">40</text><text x="1801.3" y="483.89" text-anchor="end">30</text><text x="1801.3" y="507.04" text-anchor="end">20</text><text x="1801.3" y="530.2" text-anchor="end">10</text><text x="1817.4" y="565.9" text-anchor="middle" textLength="48.21" lengthAdjust="spacingAndGlyphs">Mar25</text><text x="1867.54" y="565.9" text-anchor="middle" textLength="43.4" lengthAdjust="spacingAndGlyphs">Apr19</text><text x="1917.68" y="565.9" text-anchor="middle" textLength="50.78" lengthAdjust="spacingAndGlyphs">May14</text><text x="1967.82" y="565.9" text-anchor="middle" textLength="43.03" lengthAdjust="spacingAndGlyphs">Jun08</text><text x="2017.96" y="565.9" text-anchor="middle" textLength="36.51" lengthAdjust="spacingAndGlyphs">Jul03</text><text x="2068.1" y="565.9" text-anchor="middle" textLength="36.3" lengthAdjust="spacingAndGlyphs">Jul28</text><text x="2118.24" y="565.9" text-anchor="middle" textLength="48.27" lengthAdjust="spacingAndGlyphs">Aug22</text><text x="2168.38" y="565.9" text-anchor="middle" textLength="46.54" lengthAdjust="spacingAndGlyphs">Sep16</text></g>
<text x="2010" y="590.9" text-anchor="middle" font-size="18.4" fill="#262626">Time</text>
<text transform="translate(1765 310.5) rotate(-90)" x="0" y="0" text-anchor="middle" font-size="18.7" fill="#262626" textLength="185.96" lengthAdjust="spacingAndGlyphs">Effective Bias, Pitch [V]</text>
<path d="M226.5 742.5h4M627.5 742.5h-4M226.5 765.5h4M627.5 765.5h-4M226.5 788.5h4M627.5 788.5h-4M226.5 811.5h4M627.5 811.5h-4M226.5 835.5h4M627.5 835.5h-4M226.5 858.5h4M627.5 858.5h-4M226.5 881.5h4M627.5 881.5h-4M226.5 904.5h4M627.5 904.5h-4M226.5 927.5h4M627.5 927.5h-4M226.5 950.5h4M627.5 950.5h-4M226.5 974.5h4M627.5 974.5h-4M226.5 997.5h4M627.5 997.5h-4M226.5 1020.5h4M627.5 1020.5h-4M226.5 1043.5h4M627.5 1043.5h-4M226.5 1066.5h4M627.5 1066.5h-4M226.5 1089.5h4M627.5 1089.5h-4M226.5 1113.5h4M627.5 1113.5h-4M226.5 1136.5h4M627.5 1136.5h-4M226.5 1159.5h4M627.5 1159.5h-4M226.5 1182.5h4M627.5 1182.5h-4M230.5 1184.5v-4M230.5 722.5v4M280.5 1184.5v-4M280.5 722.5v4M330.5 1184.5v-4M330.5 722.5v4M380.5 1184.5v-4M380.5 722.5v4M430.5 1184.5v-4M430.5 722.5v4M480.5 1184.5v-4M480.5 722.5v4M530.5 1184.5v-4M530.5 722.5v4" stroke="#262626" stroke-width="1" fill="none"/>
<rect x="226.5" y="722.5" width="401" height="462" fill="none" stroke="#262626" stroke-width="1"/>
<g font-size="15.7" fill="#262626"><text x="218.3" y="750.3" text-anchor="end">110</text><text x="218.3" y="773.46" text-anchor="end">100</text><text x="218.3" y="796.62" text-anchor="end">90</text><text x="218.3" y="819.77" text-anchor="end">80</text><text x="218.3" y="842.93" text-anchor="end">70</text><text x="218.3" y="866.09" text-anchor="end">60</text><text x="218.3" y="889.25" text-anchor="end">50</text><text x="218.3" y="912.41" text-anchor="end">40</text><text x="218.3" y="935.56" text-anchor="end">30</text><text x="218.3" y="958.72" text-anchor="end">20</text><text x="218.3" y="981.88" text-anchor="end">10</text><text x="218.3" y="1005.04" text-anchor="end">0</text><text x="218.3" y="1028.2" text-anchor="end">-10</text><text x="218.3" y="1051.35" text-anchor="end">-20</text><text x="218.3" y="1074.51" text-anchor="end">-30</text><text x="218.3" y="1097.67" text-anchor="end">-40</text><text x="218.3" y="1120.83" text-anchor="end">-50</text><text x="218.3" y="1143.99" text-anchor="end">-60</text><text x="218.3" y="1167.14" text-anchor="end">-70</text><text x="218.3" y="1190.3" text-anchor="end">-80</text><text x="230.6" y="1208.9" text-anchor="middle" textLength="43.4" lengthAdjust="spacingAndGlyphs">Apr19</text><text x="280.58" y="1208.9" text-anchor="middle" textLength="50.78" lengthAdjust="spacingAndGlyphs">May14</text><text x="330.56" y="1208.9" text-anchor="middle" textLength="43.03" lengthAdjust="spacingAndGlyphs">Jun08</text><text x="380.54" y="1208.9" text-anchor="middle" textLength="36.51" lengthAdjust="spacingAndGlyphs">Jul03</text><text x="430.52" y="1208.9" text-anchor="middle" textLength="36.3" lengthAdjust="spacingAndGlyphs">Jul28</text><text x="480.5" y="1208.9" text-anchor="middle" textLength="48.27" lengthAdjust="spacingAndGlyphs">Aug22</text><text x="530.48" y="1208.9" text-anchor="middle" textLength="46.54" lengthAdjust="spacingAndGlyphs">Sep16</text></g>
<text x="427" y="1233.9" text-anchor="middle" font-size="18.4" fill="#262626">Time</text>
<text transform="translate(182 953.5) rotate(-90)" x="0" y="0" text-anchor="middle" font-size="18.7" fill="#262626" textLength="179.64" lengthAdjust="spacingAndGlyphs">Effective Bias, Yaw [V]</text>
<path d="M753.5 731.5h4M1154.5 731.5h-4M753.5 754.5h4M1154.5 754.5h-4M753.5 777.5h4M1154.5 777.5h-4M753.5 800.5h4M1154.5 800.5h-4M753.5 824.5h4M1154.5 824.5h-4M753.5 847.5h4M1154.5 847.5h-4M753.5 870.5h4M1154.5 870.5h-4M753.5 893.5h4M1154.5 893.5h-4M753.5 916.5h4M1154.5 916.5h-4M753.5 939.5h4M1154.5 939.5h-4M753.5 962.5h4M1154.5 962.5h-4M753.5 986.5h4M1154.5 986.5h-4M753.5 1009.5h4M1154.5 1009.5h-4M753.5 1032.5h4M1154.5 1032.5h-4M753.5 1055.5h4M1154.5 1055.5h-4M753.5 1078.5h4M1154.5 1078.5h-4M753.5 1101.5h4M1154.5 1101.5h-4M753.5 1125.5h4M1154.5 1125.5h-4M753.5 1148.5h4M1154.5 1148.5h-4M753.5 1171.5h4M1154.5 1171.5h-4M765.5 1184.5v-4M765.5 722.5v4M815.5 1184.5v-4M815.5 722.5v4M865.5 1184.5v-4M865.5 722.5v4M915.5 1184.5v-4M915.5 722.5v4M966.5 1184.5v-4M966.5 722.5v4M1016.5 1184.5v-4M1016.5 722.5v4M1066.5 1184.5v-4M1066.5 722.5v4" stroke="#262626" stroke-width="1" fill="none"/>
<rect x="753.5" y="722.5" width="401" height="462" fill="none" stroke="#262626" stroke-width="1"/>
<g font-size="15.7" fill="#262626"><text x="745.3" y="739.2" text-anchor="end">110</text><text x="745.3" y="762.36" text-anchor="end">100</text><text x="745.3" y="785.52" text-anchor="end">90</text><text x="745.3" y="808.67" text-anchor="end">80</text><text x="745.3" y="831.83" text-anchor="end">70</text><text x="745.3" y="854.99" text-anchor="end">60</text><text x="745.3" y="878.15" text-anchor="end">50</text><text x="745.3" y="901.31" text-anchor="end">40</text><text x="745.3" y="924.46" text-anchor="end">30</text><text x="745.3" y="947.62" text-anchor="end">20</text><text x="745.3" y="970.78" text-anchor="end">10</text><text x="745.3" y="993.94" text-anchor="end">0</text><text x="745.3" y="1017.1" text-anchor="end">-10</text><text x="745.3" y="1040.25" text-anchor="end">-20</text><text x="745.3" y="1063.41" text-anchor="end">-30</text><text x="745.3" y="1086.57" text-anchor="end">-40</text><text x="745.3" y="1109.73" text-anchor="end">-50</text><text x="745.3" y="1132.89" text-anchor="end">-60</text><text x="745.3" y="1156.04" text-anchor="end">-70</text><text x="745.3" y="1179.2" text-anchor="end">-80</text><text x="765.5" y="1208.9" text-anchor="middle" textLength="43.4" lengthAdjust="spacingAndGlyphs">Apr19</text><text x="815.65" y="1208.9" text-anchor="middle" textLength="50.78" lengthAdjust="spacingAndGlyphs">May14</text><text x="865.8" y="1208.9" text-anchor="middle" textLength="43.03" lengthAdjust="spacingAndGlyphs">Jun08</text><text x="915.95" y="1208.9" text-anchor="middle" textLength="36.51" lengthAdjust="spacingAndGlyphs">Jul03</text><text x="966.1" y="1208.9" text-anchor="middle" textLength="36.3" lengthAdjust="spacingAndGlyphs">Jul28</text><text x="1016.25" y="1208.9" text-anchor="middle" textLength="48.27" lengthAdjust="spacingAndGlyphs">Aug22</text><text x="1066.4" y="1208.9" text-anchor="middle" textLength="46.54" lengthAdjust="spacingAndGlyphs">Sep16</text></g>
<text x="954" y="1233.9" text-anchor="middle" font-size="18.4" fill="#262626">Time</text>
<text transform="translate(709 953.5) rotate(-90)" x="0" y="0" text-anchor="middle" font-size="18.7" fill="#262626" textLength="179.64" lengthAdjust="spacingAndGlyphs">Effective Bias, Yaw [V]</text>
<path d="M1280.5 728.5h4M1681.5 728.5h-4M1280.5 751.5h4M1681.5 751.5h-4M1280.5 774.5h4M1681.5 774.5h-4M1280.5 797.5h4M1681.5 797.5h-4M1280.5 821.5h4M1681.5 821.5h-4M1280.5 844.5h4M1681.5 844.5h-4M1280.5 867.5h4M1681.5 867.5h-4M1280.5 890.5h4M1681.5 890.5h-4M1280.5 913.5h4M1681.5 913.5h-4M1280.5 936.5h4M1681.5 936.5h-4M1280.5 959.5h4M1681.5 959.5h-4M1280.5 983.5h4M1681.5 983.5h-4M1280.5 1006.5h4M1681.5 1006.5h-4M1280.5 1029.5h4M1681.5 1029.5h-4M1280.5 1052.5h4M1681.5 1052.5h-4M1280.5 1075.5h4M1681.5 1075.5h-4M1280.5 1098.5h4M1681.5 1098.5h-4M1280.5 1122.5h4M1681.5 1122.5h-4M1280.5 1145.5h4M1681.5 1145.5h-4M1280.5 1168.5h4M1681.5 1168.5h-4M1292.5 1184.5v-4M1292.5 722.5v4M1342.5 1184.5v-4M1342.5 722.5v4M1392.5 1184.5v-4M1392.5 722.5v4M1443.5 1184.5v-4M1443.5 722.5v4M1493.5 1184.5v-4M1493.5 722.5v4M1543.5 1184.5v-4M1543.5 722.5v4M1593.5 1184.5v-4M1593.5 722.5v4M1643.5 1184.5v-4M1643.5 722.5v4" stroke="#262626" stroke-width="1" fill="none"/>
<rect x="1280.5" y="722.5" width="401" height="462" fill="none" stroke="#262626" stroke-width="1"/>
<g font-size="15.7" fill="#262626"><text x="1272.3" y="736.2" text-anchor="end">160</text><text x="1272.3" y="759.36" text-anchor="end">150</text><text x="1272.3" y="782.52" text-anchor="end">140</text><text x="1272.3" y="805.67" text-anchor="end">130</text><text x="1272.3" y="828.83" text-anchor="end">120</text><text x="1272.3" y="851.99" text-anchor="end">110</text><text x="1272.3" y="875.15" text-anchor="end">100</text><text x="1272.3" y="898.31" text-anchor="end">90</text><text x="1272.3" y="921.46" text-anchor="end">80</text><text x="1272.3" y="944.62" text-anchor="end">70</text><text x="1272.3" y="967.78" text-anchor="end">60</text><text x="1272.3" y="990.94" text-anchor="end">50</text><text x="1272.3" y="1014.1" text-anchor="end">40</text><text x="1272.3" y="1037.25" text-anchor="end">30</text><text x="1272.3" y="1060.41" text-anchor="end">20</text><text x="1272.3" y="1083.57" text-anchor="end">10</text><text x="1272.3" y="1106.73" text-anchor="end">0</text><text x="1272.3" y="1129.89" text-anchor="end">-10</text><text x="1272.3" y="1153.04" text-anchor="end">-20</text><text x="1272.3" y="1176.2" text-anchor="end">-30</text><text x="1292.6" y="1208.9" text-anchor="middle" textLength="48.21" lengthAdjust="spacingAndGlyphs">Mar25</text><text x="1342.74" y="1208.9" text-anchor="middle" textLength="43.4" lengthAdjust="spacingAndGlyphs">Apr19</text><text x="1392.88" y="1208.9" text-anchor="middle" textLength="50.78" lengthAdjust="spacingAndGlyphs">May14</text><text x="1443.02" y="1208.9" text-anchor="middle" textLength="43.03" lengthAdjust="spacingAndGlyphs">Jun08</text><text x="1493.16" y="1208.9" text-anchor="middle" textLength="36.51" lengthAdjust="spacingAndGlyphs">Jul03</text><text x="1543.3" y="1208.9" text-anchor="middle" textLength="36.3" lengthAdjust="spacingAndGlyphs">Jul28</text><text x="1593.44" y="1208.9" text-anchor="middle" textLength="48.27" lengthAdjust="spacingAndGlyphs">Aug22</text><text x="1643.58" y="1208.9" text-anchor="middle" textLength="46.54" lengthAdjust="spacingAndGlyphs">Sep16</text></g>
<text x="1481" y="1233.9" text-anchor="middle" font-size="18.4" fill="#262626">Time</text>
<text transform="translate(1236 953.5) rotate(-90)" x="0" y="0" text-anchor="middle" font-size="18.7" fill="#262626" textLength="179.64" lengthAdjust="spacingAndGlyphs">Effective Bias, Yaw [V]</text>
<path d="M1809.5 734.5h4M2210.5 734.5h-4M1809.5 757.5h4M2210.5 757.5h-4M1809.5 780.5h4M2210.5 780.5h-4M1809.5 803.5h4M2210.5 803.5h-4M1809.5 826.5h4M2210.5 826.5h-4M1809.5 850.5h4M2210.5 850.5h-4M1809.5 873.5h4M2210.5 873.5h-4M1809.5 896.5h4M2210.5 896.5h-4M1809.5 919.5h4M2210.5 919.5h-4M1809.5 942.5h4M2210.5 942.5h-4M1809.5 965.5h4M2210.5 965.5h-4M1809.5 989.5h4M2210.5 989.5h-4M1809.5 1012.5h4M2210.5 1012.5h-4M1809.5 1035.5h4M2210.5 1035.5h-4M1809.5 1058.5h4M2210.5 1058.5h-4M1809.5 1081.5h4M2210.5 1081.5h-4M1809.5 1104.5h4M2210.5 1104.5h-4M1809.5 1127.5h4M2210.5 1127.5h-4M1809.5 1151.5h4M2210.5 1151.5h-4M1809.5 1174.5h4M2210.5 1174.5h-4M1815.5 1184.5v-4M1815.5 722.5v4M1865.5 1184.5v-4M1865.5 722.5v4M1915.5 1184.5v-4M1915.5 722.5v4M1965.5 1184.5v-4M1965.5 722.5v4M2016.5 1184.5v-4M2016.5 722.5v4M2066.5 1184.5v-4M2066.5 722.5v4M2116.5 1184.5v-4M2116.5 722.5v4M2166.5 1184.5v-4M2166.5 722.5v4" stroke="#262626" stroke-width="1" fill="none"/>
<rect x="1809.5" y="722.5" width="401" height="462" fill="none" stroke="#262626" stroke-width="1"/>
<g font-size="15.7" fill="#262626"><text x="1801.3" y="742.1" text-anchor="end">160</text><text x="1801.3" y="765.26" text-anchor="end">150</text><text x="1801.3" y="788.42" text-anchor="end">140</text><text x="1801.3" y="811.57" text-anchor="end">130</text><text x="1801.3" y="834.73" text-anchor="end">120</text><text x="1801.3" y="857.89" text-anchor="end">110</text><text x="1801.3" y="881.05" text-anchor="end">100</text><text x="1801.3" y="904.21" text-anchor="end">90</text><text x="1801.3" y="927.36" text-anchor="end">80</text><text x="1801.3" y="950.52" text-anchor="end">70</text><text x="1801.3" y="973.68" text-anchor="end">60</text><text x="1801.3" y="996.84" text-anchor="end">50</text><text x="1801.3" y="1020" text-anchor="end">40</text><text x="1801.3" y="1043.15" text-anchor="end">30</text><text x="1801.3" y="1066.31" text-anchor="end">20</text><text x="1801.3" y="1089.47" text-anchor="end">10</text><text x="1801.3" y="1112.63" text-anchor="end">0</text><text x="1801.3" y="1135.79" text-anchor="end">-10</text><text x="1801.3" y="1158.94" text-anchor="end">-20</text><text x="1801.3" y="1182.1" text-anchor="end">-30</text><text x="1815.4" y="1208.9" text-anchor="middle" textLength="48.21" lengthAdjust="spacingAndGlyphs">Mar25</text><text x="1865.57" y="1208.9" text-anchor="middle" textLength="43.4" lengthAdjust="spacingAndGlyphs">Apr19</text><text x="1915.74" y="1208.9" text-anchor="middle" textLength="50.78" lengthAdjust="spacingAndGlyphs">May14</text><text x="1965.91" y="1208.9" text-anchor="middle" textLength="43.03" lengthAdjust="spacingAndGlyphs">Jun08</text><text x="2016.08" y="1208.9" text-anchor="middle" textLength="36.51" lengthAdjust="spacingAndGlyphs">Jul03</text><text x="2066.25" y="1208.9" text-anchor="middle" textLength="36.3" lengthAdjust="spacingAndGlyphs">Jul28</text><text x="2116.42" y="1208.9" text-anchor="middle" textLength="48.27" lengthAdjust="spacingAndGlyphs">Aug22</text><text x="2166.59" y="1208.9" text-anchor="middle" textLength="46.54" lengthAdjust="spacingAndGlyphs">Sep16</text></g>
<text x="2010" y="1233.9" text-anchor="middle" font-size="18.4" fill="#262626">Time</text>
<text transform="translate(1765 953.5) rotate(-90)" x="0" y="0" text-anchor="middle" font-size="18.7" fill="#262626" textLength="179.64" lengthAdjust="spacingAndGlyphs">Effective Bias, Yaw [V]</text>
<text x="426.6" y="70.1" text-anchor="middle" font-size="19.2" font-weight="bold" fill="#000" textLength="387.33" lengthAdjust="spacingAndGlyphs">H1SUSETMX ESD Charge Effective Bias Trend</text>
<text x="2010.2" y="70.1" text-anchor="middle" font-size="19.2" font-weight="bold" fill="#000" textLength="92.68" lengthAdjust="spacingAndGlyphs">2025-09-16</text>
<rect x="237.2" y="90.6" width="274.1" height="44.6" fill="#fff" stroke="#262626" stroke-width="1"/>
<path d="M260.8 94.4V110.4M256 94.5H265M256 110.5H265M256.1 102.5H264.9M260.5 98.1V106.9M257.2 99.2L263.8 105.8M257.2 105.8L263.8 99.2M260.8 115.5V131.5M256 115.5H265M256 131.5H265M256.1 123.5H264.9M260.5 119.1V127.9M257.2 120.2L263.8 126.8M257.2 126.8L263.8 120.2" stroke="#0000ff" stroke-width="1" fill="none"/>
<text x="284.8" y="108.0" font-size="14.3" fill="#000" textLength="224.49" lengthAdjust="spacingAndGlyphs">UL Mean with standard deviation</text>
<text x="284.8" y="129.7" font-size="14.3" fill="#000" textLength="219.33" lengthAdjust="spacingAndGlyphs">UL Weighted mean and variance</text>
<rect x="764.3" y="90.6" width="271.1" height="44.6" fill="#fff" stroke="#262626" stroke-width="1"/>
<path d="M787.9 94.4V110.4M783 94.5H792M783 110.5H792M783.1 102.5H791.9M787.5 98.1V106.9M784.2 99.2L790.8 105.8M784.2 105.8L790.8 99.2M787.9 115.5V131.5M783 115.5H792M783 131.5H792M783.1 123.5H791.9M787.5 119.1V127.9M784.2 120.2L790.8 126.8M784.2 126.8L790.8 120.2" stroke="#ff0000" stroke-width="1" fill="none"/>
<text x="811.9" y="108.0" font-size="14.3" fill="#000" textLength="221.46" lengthAdjust="spacingAndGlyphs">LL Mean with standard deviation</text>
<text x="811.9" y="129.7" font-size="14.3" fill="#000" textLength="216.3" lengthAdjust="spacingAndGlyphs">LL Weighted mean and variance</text>
<rect x="1292.4" y="90.6" width="275.9" height="44.6" fill="#fff" stroke="#262626" stroke-width="1"/>
<path d="M1316 94.4V110.4M1312 94.5H1321M1312 110.5H1321M1312.1 102.5H1320.9M1316.5 98.1V106.9M1313.2 99.2L1319.8 105.8M1313.2 105.8L1319.8 99.2M1316 115.5V131.5M1312 115.5H1321M1312 131.5H1321M1312.1 123.5H1320.9M1316.5 119.1V127.9M1313.2 120.2L1319.8 126.8M1313.2 126.8L1319.8 120.2" stroke="#000000" stroke-width="1" fill="none"/>
<text x="1340" y="108.0" font-size="14.3" fill="#000" textLength="225.37" lengthAdjust="spacingAndGlyphs">UR Mean with standard deviation</text>
<text x="1340" y="129.7" font-size="14.3" fill="#000" textLength="221.13" lengthAdjust="spacingAndGlyphs">UR Weighted mean and variance</text>
<rect x="1820.6" y="90.6" width="273.1" height="44.6" fill="#fff" stroke="#262626" stroke-width="1"/>
<path d="M1844.2 94.4V110.4M1840 94.5H1849M1840 110.5H1849M1840.1 102.5H1848.9M1844.5 98.1V106.9M1841.2 99.2L1847.8 105.8M1841.2 105.8L1847.8 99.2M1844.2 115.5V131.5M1840 115.5H1849M1840 131.5H1849M1840.1 123.5H1848.9M1844.5 119.1V127.9M1841.2 120.2L1847.8 126.8M1841.2 126.8L1847.8 120.2" stroke="#ff00ff" stroke-width="1" fill="none"/>
<text x="1868.2" y="108.0" font-size="14.3" fill="#000" textLength="222.85" lengthAdjust="spacingAndGlyphs">LR Mean with standard deviation</text>
<text x="1868.2" y="129.7" font-size="14.3" fill="#000" textLength="218.4" lengthAdjust="spacingAndGlyphs">LR Weighted mean and variance</text>
</svg></body></html>
